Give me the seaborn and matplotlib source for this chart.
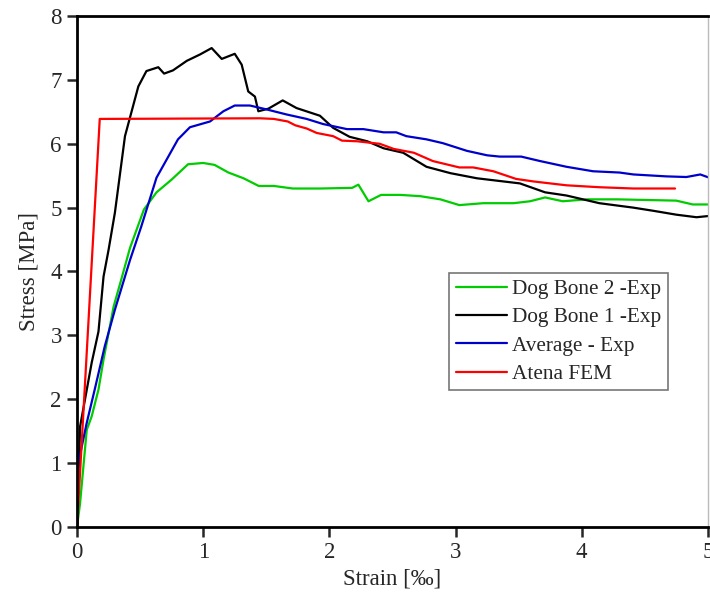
import pandas as pd
import matplotlib.pyplot as plt
import seaborn as sns

# Dog Bone 2 - Exp (green)
db2_strain = [0, 0.024, 0.077, 0.116, 0.17, 0.21, 0.29, 0.35, 0.42, 0.53, 0.63, 0.75, 0.88, 1.0,
              1.09, 1.2, 1.32, 1.44, 1.56, 1.71, 1.93, 2.18, 2.23, 2.31, 2.41, 2.56, 2.72, 2.88,
              3.03, 3.22, 3.46, 3.59, 3.71, 3.85, 4.04, 4.28, 4.75, 4.88, 5.0]
db2_stress = [0, 0.37, 1.52, 1.73, 2.15, 2.62, 3.45, 3.87, 4.37, 4.97, 5.24, 5.44, 5.68, 5.7,
              5.67, 5.55, 5.46, 5.34, 5.34, 5.3, 5.3, 5.31, 5.36, 5.1, 5.2, 5.2, 5.18, 5.13,
              5.04, 5.07, 5.07, 5.1, 5.16, 5.1, 5.13, 5.13, 5.11, 5.05, 5.05]

# Dog Bone 1 - Exp (black)
db1_strain = [0, 0.024, 0.116, 0.17, 0.21, 0.25, 0.3, 0.38, 0.486, 0.55, 0.644, 0.69, 0.76, 0.87,
              0.975, 1.067, 1.147, 1.25, 1.305, 1.357, 1.41, 1.437, 1.516, 1.63, 1.74, 1.925,
              2.03, 2.16, 2.3, 2.43, 2.585, 2.77, 2.96, 3.17, 3.51, 3.71, 3.88, 4.14, 4.41,
              4.57, 4.75, 4.91, 5.01]
db1_stress = [0, 1.57, 2.57, 3.06, 3.92, 4.34, 4.92, 6.12, 6.9, 7.14, 7.2, 7.1, 7.15, 7.3,
              7.4, 7.5, 7.33, 7.41, 7.24, 6.82, 6.74, 6.51, 6.55, 6.68, 6.56, 6.44,
              6.25, 6.11, 6.04, 5.93, 5.86, 5.64, 5.54, 5.46, 5.38, 5.24, 5.19, 5.07, 5.0,
              4.95, 4.89, 4.85, 4.87]

# Average - Exp (blue)
avg_strain = [0, 0.01, 0.077, 0.14, 0.22, 0.3, 0.38, 0.42, 0.51, 0.63, 0.8, 0.895, 1.054, 1.16,
              1.25, 1.37, 1.5, 1.66, 1.82, 1.95, 2.14, 2.27, 2.43, 2.53, 2.61, 2.77, 2.9,
              3.09, 3.25, 3.35, 3.52, 3.67, 3.88, 4.09, 4.3, 4.41, 4.67, 4.83, 4.94, 5.01]
avg_stress = [0, 1.0, 1.63, 2.15, 2.83, 3.4, 3.92, 4.18, 4.71, 5.47, 6.07, 6.26, 6.35, 6.51,
              6.6, 6.6, 6.54, 6.46, 6.39, 6.31, 6.23, 6.23, 6.18, 6.18, 6.12, 6.07, 6.01,
              5.89, 5.82, 5.8, 5.8, 5.73, 5.64, 5.57, 5.55, 5.52, 5.49, 5.48, 5.52, 5.47]

# Atena FEM (red)
fem_strain = [0, 0.18, 1.45, 1.56, 1.67, 1.73, 1.82, 1.9, 2.03, 2.1, 2.22, 2.4, 2.51, 2.67,
              2.82, 3.03, 3.14, 3.3, 3.48, 3.62, 3.88, 4.14, 4.41, 4.74]
fem_stress = [0, 6.39, 6.4, 6.39, 6.35, 6.29, 6.24, 6.17, 6.12, 6.05, 6.04, 6.0, 5.92, 5.86,
              5.73, 5.63, 5.63, 5.57, 5.45, 5.41, 5.35, 5.32, 5.3, 5.3]

labels = ["Dog Bone 2 -Exp", "Dog Bone 1 -Exp", "Average - Exp", "Atena FEM"]
colors = ["#00cc00", "#000000", "#0000cc", "#ff0000"]

frames = []
for lab, xs, ys in zip(labels,
                       [db2_strain, db1_strain, avg_strain, fem_strain],
                       [db2_stress, db1_stress, avg_stress, fem_stress]):
    frames.append(pd.DataFrame({"Strain": xs, "Stress": ys, "Curve": lab}))
df = pd.concat(frames, ignore_index=True)

sns.set_style("ticks")
plt.rcParams['font.family'] = ['Liberation Serif', 'DejaVu Serif']

fig = plt.figure(figsize=(7.1, 5.98), dpi=100)
ax = fig.add_axes([0.1085, 0.119, 0.8885, 0.854])

sns.lineplot(data=df, x="Strain", y="Stress", hue="Curve", hue_order=labels,
             palette=dict(zip(labels, colors)), sort=False, estimator=None,
             linewidth=1.6, ax=ax)

ax.set_xlim(0, 5)
ax.set_ylim(0, 8)
ax.set_xticks(range(0, 6))
ax.set_yticks(range(0, 9))
ax.set_xlabel("Strain [‰]", fontsize=16.5, labelpad=4)
ax.set_ylabel("Stress [MPa]", fontsize=16.5, labelpad=8)
ax.tick_params(axis="both", labelsize=16.5, width=1.8, length=7.5, direction="out")
for side in ["left", "bottom", "top"]:
    ax.spines[side].set_linewidth(2)
    ax.spines[side].set_color("black")
ax.spines["right"].set_linewidth(1)
ax.spines["right"].set_color("#bbbbbb")

leg = ax.legend(loc="lower left", bbox_to_anchor=(0.59, 0.267), borderaxespad=0,
                fontsize=15.3, frameon=True, fancybox=False, handlelength=2.4,
                borderpad=0.3, labelspacing=0.4, handletextpad=0.25)
leg.get_frame().set_edgecolor("#555555")
leg.get_frame().set_linewidth(1.2)

fig.savefig("out.png", dpi=100)
